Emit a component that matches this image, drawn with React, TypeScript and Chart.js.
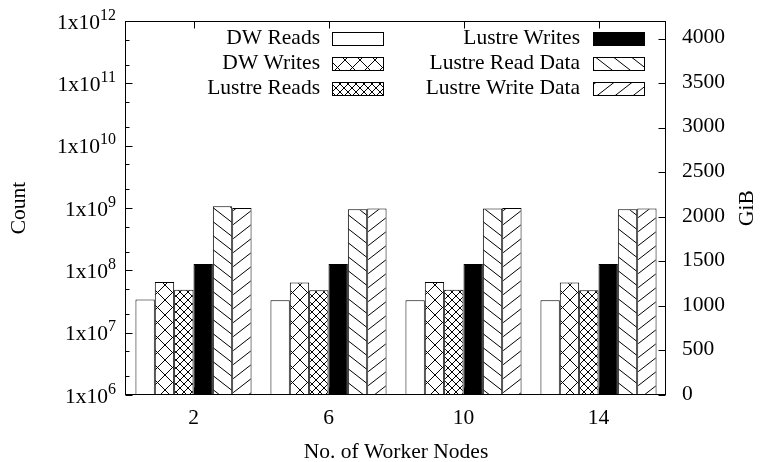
import React, { useEffect, useRef } from 'react';
import { Chart, registerables } from 'chart.js';

Chart.register(...registerables);

// ---- data ----
const categories = ['2', '6', '10', '14'];
const dwReads = [3.4e7, 3.3e7, 3.3e7, 3.3e7];
const dwWrites = [6.5e7, 6.4e7, 6.5e7, 6.4e7];
const lustreReads = [4.9e7, 4.8e7, 4.9e7, 4.8e7];
const lustreWrites = [1.26e8, 1.26e8, 1.26e8, 1.26e8];
const lustreReadData = [2120, 2086, 2094, 2086];
const lustreWriteData = [2100, 2094, 2100, 2094];

const countExponents = [6, 7, 8, 9, 10, 11, 12];
const countMinorFactors = [2, 5];
const gibTicks = [0, 500, 1000, 1500, 2000, 2500, 3000, 3500, 4000];

const seriesNames = [
  'DW Reads',
  'DW Writes',
  'Lustre Reads',
  'Lustre Writes',
  'Lustre Read Data',
  'Lustre Write Data',
];

const xTitle = 'No. of Worker Nodes';
const yTitle = 'Count';
const y2Title = 'GiB';

const FONT = '"Liberation Serif", "Times New Roman", serif';

type PatternKind = 'empty' | 'cross' | 'fineCross' | 'solid' | 'back' | 'fwd';
const patternKinds: PatternKind[] = ['empty', 'cross', 'fineCross', 'solid', 'back', 'fwd'];

function makePattern(ctx: CanvasRenderingContext2D, kind: PatternKind): string | CanvasPattern {
  if (kind === 'empty') return '#ffffff';
  if (kind === 'solid') return '#000000';
  const c = document.createElement('canvas');
  let w = 15;
  let h = 15;
  if (kind === 'fineCross') { w = 8; h = 8; }
  if (kind === 'back' || kind === 'fwd') { w = 18; h = 14; }
  c.width = w;
  c.height = h;
  const g = c.getContext('2d')!;
  g.fillStyle = '#ffffff';
  g.fillRect(0, 0, w, h);
  g.strokeStyle = '#000000';
  g.lineWidth = 1;
  const back = () => {
    for (const dx of [-w, 0, w]) {
      g.beginPath();
      g.moveTo(dx - w * 0.2, -h * 0.2);
      g.lineTo(dx + w * 1.2, h * 1.2);
      g.stroke();
    }
  };
  const fwd = () => {
    for (const dx of [-w, 0, w]) {
      g.beginPath();
      g.moveTo(dx - w * 0.2, h * 1.2);
      g.lineTo(dx + w * 1.2, -h * 0.2);
      g.stroke();
    }
  };
  if (kind === 'cross' || kind === 'fineCross') { back(); fwd(); }
  if (kind === 'back') back();
  if (kind === 'fwd') fwd();
  return ctx.createPattern(c, 'repeat')!;
}

const framePlugin = {
  id: 'gnuplotFrame',
  beforeDraw(chart: any) {
    const ctx = chart.ctx as CanvasRenderingContext2D;
    ctx.save();
    ctx.fillStyle = '#ffffff';
    ctx.fillRect(0, 0, chart.width, chart.height);
    ctx.restore();
  },
  afterDraw(chart: any) {
    const ctx = chart.ctx as CanvasRenderingContext2D;
    const { left, right, top, bottom } = chart.chartArea;
    const L = Math.round(left) - 0.5;
    const R = Math.round(right) - 0.5;
    const T = Math.round(top) + 0.5;
    const B = Math.round(bottom) - 0.5;
    const yS = chart.scales.y;
    const y2S = chart.scales.y2;
    const xS = chart.scales.x;
    ctx.save();
    ctx.strokeStyle = '#000';
    ctx.fillStyle = '#000';
    ctx.lineWidth = 1;
    // frame
    ctx.strokeRect(L, T, R - L, B - T);

    // left log ticks
    for (const n of countExponents) {
      const y = Math.round(yS.getPixelForValue(Math.pow(10, n))) + 0.5;
      ctx.beginPath();
      ctx.moveTo(L, y);
      ctx.lineTo(L + 7, y);
      ctx.stroke();
      if (n < countExponents[countExponents.length - 1]) {
        for (const f of countMinorFactors) {
          const ym = Math.round(yS.getPixelForValue(f * Math.pow(10, n))) + 0.5;
          ctx.beginPath();
          ctx.moveTo(L, ym);
          ctx.lineTo(L + 4, ym);
          ctx.stroke();
        }
      }
    }
    // right ticks
    for (const v of gibTicks) {
      const y = Math.round(y2S.getPixelForValue(v)) + 0.5;
      ctx.beginPath();
      ctx.moveTo(R, y);
      ctx.lineTo(R - 7, y);
      ctx.stroke();
    }
    // x ticks (bottom + mirrored top)
    categories.forEach((_, i) => {
      const x = Math.round(xS.getPixelForValue(i)) + 0.5;
      ctx.beginPath();
      ctx.moveTo(x, B);
      ctx.lineTo(x, B - 7);
      ctx.moveTo(x, T);
      ctx.lineTo(x, T + 7);
      ctx.stroke();
    });

    // left tick labels with superscript
    ctx.textBaseline = 'middle';
    for (const n of countExponents) {
      const y = yS.getPixelForValue(Math.pow(10, n));
      const base = '1x10';
      const exp = String(n);
      ctx.font = `21.5px ${FONT}`;
      const bw = ctx.measureText(base).width;
      ctx.font = `16px ${FONT}`;
      const ew = ctx.measureText(exp).width;
      const x0 = 116 - bw - ew;
      ctx.textAlign = 'left';
      ctx.font = `21.5px ${FONT}`;
      ctx.fillText(base, x0, y + 2);
      ctx.font = `16px ${FONT}`;
      ctx.fillText(exp, x0 + bw, y - 5.5);
    }
    // right tick labels
    ctx.font = `21.5px ${FONT}`;
    ctx.textAlign = 'left';
    for (const v of gibTicks) {
      const y = y2S.getPixelForValue(v);
      ctx.fillText(String(v), 682, y - 1);
    }
    // x tick labels
    ctx.textAlign = 'center';
    categories.forEach((c, i) => {
      ctx.fillText(c, xS.getPixelForValue(i), 418);
    });
    // titles
    ctx.fillText(xTitle, (left + right) / 2, 452);
    ctx.save();
    ctx.translate(19.5, (top + bottom) / 2);
    ctx.rotate(-Math.PI / 2);
    ctx.fillText(yTitle, 0, 0);
    ctx.restore();
    ctx.save();
    ctx.translate(747, (top + bottom) / 2);
    ctx.rotate(-Math.PI / 2);
    ctx.fillText(y2Title, 0, 0);
    ctx.restore();

    // legend (two columns, gnuplot style)
    const rows = [38, 63, 88];
    const cols = [
      { textRight: 320, boxL: 332, boxR: 383 },
      { textRight: 580, boxL: 593, boxR: 644 },
    ];
    chart.data.datasets.forEach((ds: any, i: number) => {
      const col = cols[Math.floor(i / 3)];
      const y = rows[i % 3];
      ctx.textAlign = 'right';
      ctx.fillStyle = '#000';
      ctx.fillText(ds.label, col.textRight, y);
      const bx = col.boxL + 0.5;
      const by = Math.round(y - 6.5) + 0.5;
      const bwid = col.boxR - col.boxL;
      const bh = 13;
      ctx.fillStyle = ds.backgroundColor;
      ctx.fillRect(bx, by, bwid, bh);
      ctx.strokeStyle = '#000';
      ctx.strokeRect(bx, by, bwid, bh);
    });
    ctx.restore();
  },
};

export default function App() {
  const canvasRef = useRef<HTMLCanvasElement | null>(null);

  useEffect(() => {
    const canvas = canvasRef.current;
    if (!canvas) return;
    const ctx = canvas.getContext('2d')!;
    const seriesValues = [dwReads, dwWrites, lustreReads, lustreWrites, lustreReadData, lustreWriteData];
    const axisIds = ['y', 'y', 'y', 'y', 'y2', 'y2'];
    const datasets = seriesNames.map((name, i) => ({
      label: name,
      data: seriesValues[i],
      yAxisID: axisIds[i],
      backgroundColor: makePattern(ctx, patternKinds[i]) as any,
      borderColor: '#000000',
      borderWidth: 1,
      borderSkipped: 'bottom' as const,
      categoryPercentage: 0.86,
      barPercentage: 1,
    }));

    const chart = new Chart(canvas, {
      type: 'bar',
      data: { labels: categories, datasets },
      options: {
        responsive: false,
        animation: false,
        devicePixelRatio: 1,
        layout: { padding: { top: 21, left: 0, right: 0, bottom: 0 } },
        plugins: {
          legend: { display: false },
          tooltip: { enabled: false },
          title: { display: false },
        },
        scales: {
          x: {
            type: 'category',
            offset: true,
            grid: { display: false },
            border: { display: false },
            ticks: { display: false },
            afterFit: (s: any) => { s.height = 67; },
          },
          y: {
            type: 'logarithmic',
            position: 'left',
            min: 1e6,
            max: 1e12,
            grid: { display: false },
            border: { display: false },
            ticks: { display: false },
            afterFit: (s: any) => { s.width = 126; },
          },
          y2: {
            type: 'linear',
            position: 'right',
            min: 0,
            max: 4200,
            grid: { display: false },
            border: { display: false },
            ticks: { display: false },
            afterFit: (s: any) => { s.width = 94; },
          },
        },
      } as any,
      plugins: [framePlugin as any],
    });
    return () => chart.destroy();
  }, []);

  return (
    <div style={{ position: 'absolute', left: 0, top: 0, width: 760, height: 462, background: '#fff' }}>
      <canvas ref={canvasRef} width={760} height={462} style={{ display: 'block', width: 760, height: 462 }} />
    </div>
  );
}
